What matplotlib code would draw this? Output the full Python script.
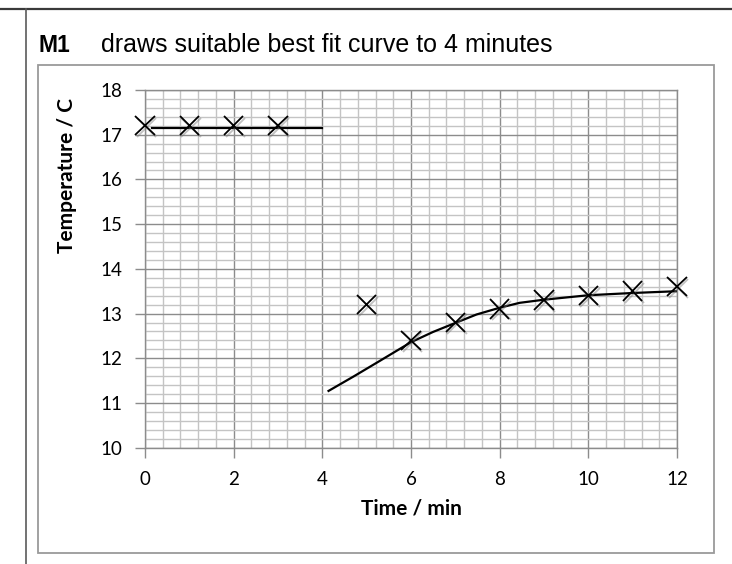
import numpy as np
import matplotlib
matplotlib.use("Agg")
import matplotlib.pyplot as plt
from matplotlib.patches import Rectangle
from matplotlib.lines import Line2D
import matplotlib.patheffects as pe

# measured points (time / min, temperature / C)
time_min = [0, 1, 2, 3, 5, 6, 7, 8, 9, 10, 11, 12]
temp_c = [17.2, 17.2, 17.2, 17.2, 13.2, 12.4, 12.8, 13.1, 13.3, 13.4, 13.5, 13.6]

# hand drawn best fit lines
flat_x = [0.15, 4.0]
flat_y = [17.15, 17.15]
curve_x = [4.14, 4.70, 5.26, 6.0, 6.5, 7.0, 7.48, 8.0, 8.45, 9.0, 10.0, 11.0, 12.0]
curve_y = [11.27, 11.59, 11.92, 12.36, 12.59, 12.79, 12.98, 13.13, 13.24, 13.31, 13.41, 13.46, 13.50]

x_ticks = [0, 2, 4, 6, 8, 10, 12]
y_ticks = [10, 11, 12, 13, 14, 15, 16, 17, 18]

W, H = 732, 564
fig = plt.figure(figsize=(W / 100, H / 100), dpi=100)

def fx(px):
    return px / W

def fy(py):
    return 1 - py / H

# page furniture: top rule, left rule, chart frame
fig.add_artist(Line2D([0, 1], [fy(9.3), fy(9.3)], color="#3a3a3a", lw=1.6, transform=fig.transFigure))
fig.add_artist(Line2D([fx(25.7), fx(25.7)], [fy(9.3), 0], color="#5a5a5a", lw=1.2, transform=fig.transFigure))
fig.add_artist(Rectangle((fx(37.5), fy(553)), fx(714) - fx(37.5), fy(65) - fy(553),
                         fill=False, ec="#9a9a9a", lw=1.3, transform=fig.transFigure))

fig.text(fx(38), fy(52), "M1", fontsize=16.5, fontweight="bold", family="Liberation Sans", va="baseline")
fig.text(fx(101), fy(52), "draws suitable best fit curve to 4 minutes", fontsize=18,
         family="Liberation Sans", va="baseline")

ax = fig.add_axes([fx(145), fy(447.7), fx(677) - fx(145), fy(90) - fy(447.7)])
ax.set_xlim(0, 12)
ax.set_ylim(10, 18)

# graph paper grid
for v in np.arange(0, 12.01, 0.4):
    major = abs(v / 2 - round(v / 2)) < 1e-6
    ax.axvline(v, color="#8c8c8c" if major else "#c4c4c4", lw=1.0, zorder=1)
for v in np.arange(10, 18.01, 0.2):
    major = abs(v - round(v)) < 1e-6
    ax.axhline(v, color="#8c8c8c" if major else "#c4c4c4", lw=1.0, zorder=1)

for s in ax.spines.values():
    s.set_color("#8c8c8c")
    s.set_linewidth(1.0)

ax.set_xticks(x_ticks)
ax.set_yticks(y_ticks)
ax.tick_params(axis="both", length=7, width=1.0, color="#8c8c8c", labelsize=13.5)
ax.tick_params(axis="x", pad=9.5)
ax.tick_params(axis="y", pad=9)
for lab in ax.get_xticklabels() + ax.get_yticklabels():
    lab.set_family("Lato")

ax.set_xlabel("Time / min", fontsize=15, fontweight="bold", family="Lato")
ax.set_ylabel("Temperature / C", fontsize=15, fontweight="bold", family="Lato")
ax.xaxis.set_label_coords(0.5, -0.143)
ax.yaxis.set_label_coords(-0.128, 0.762)

shadow = [pe.SimpleLineShadow(offset=(1.2, -1.2), shadow_color="#777777", alpha=0.45), pe.Normal()]
ax.plot(flat_x, flat_y, color="black", lw=1.6, zorder=3)
ax.plot(curve_x, curve_y, color="black", lw=1.6, zorder=3)
ax.plot(time_min, temp_c, linestyle="none", marker="x", markersize=14, mew=1.3,
        color="black", zorder=4, clip_on=False, path_effects=shadow)

fig.savefig("out.png", dpi=100)
